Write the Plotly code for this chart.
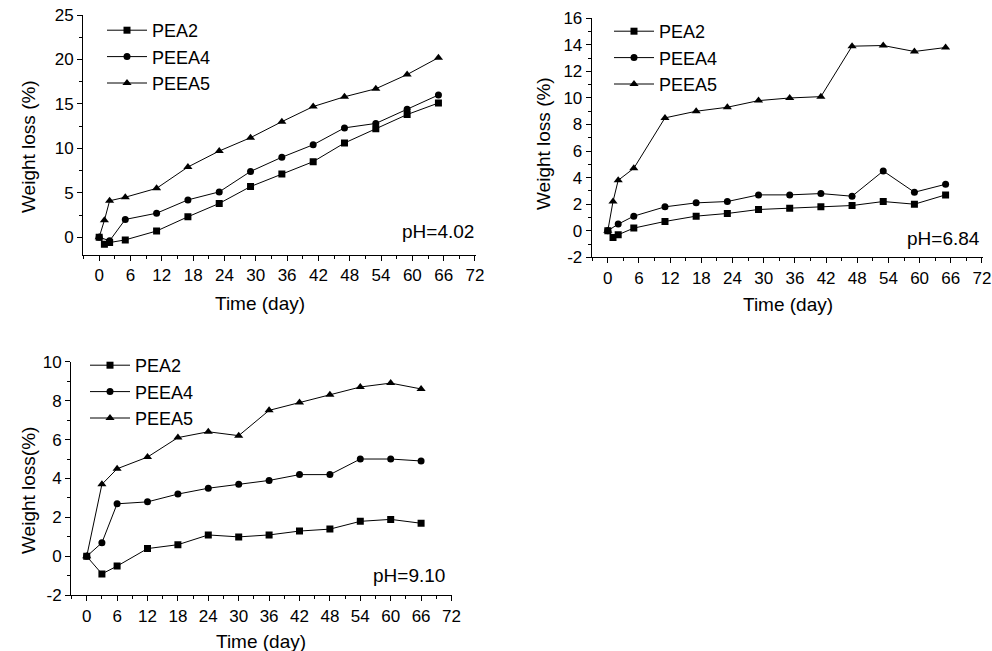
import plotly.graph_objects as go

# ---------------- data ----------------
series_names = ["PEA2", "PEEA4", "PEEA5"]
ph_labels = ["pH=4.02", "pH=6.84", "pH=9.10"]

# Panel 1 (pH 4.02)
p1_days_pea2 = [0, 1, 2, 5, 11, 17, 23, 29, 35, 41, 47, 53, 59, 65]
p1_pea2 = [0, -0.8, -0.6, -0.3, 0.7, 2.3, 3.8, 5.7, 7.1, 8.5, 10.6, 12.2, 13.8, 15.1]
p1_days_peea4 = [0, 2, 5, 11, 17, 23, 29, 35, 41, 47, 53, 59, 65]
p1_peea4 = [0, -0.4, 2.0, 2.7, 4.2, 5.1, 7.4, 9.0, 10.4, 12.3, 12.8, 14.4, 16.0]
p1_days_peea5 = [0, 1, 2, 5, 11, 17, 23, 29, 35, 41, 47, 53, 59, 65]
p1_peea5 = [0, 1.9, 4.1, 4.5, 5.5, 7.9, 9.7, 11.2, 13.0, 14.7, 15.8, 16.7, 18.3, 20.2]

# Panel 2 (pH 6.84)
p2_days_pea2 = [0, 1, 2, 5, 11, 17, 23, 29, 35, 41, 47, 53, 59, 65]
p2_pea2 = [0, -0.5, -0.3, 0.2, 0.7, 1.1, 1.3, 1.6, 1.7, 1.8, 1.9, 2.2, 2.0, 2.7]
p2_days_peea4 = [0, 2, 5, 11, 17, 23, 29, 35, 41, 47, 53, 59, 65]
p2_peea4 = [0, 0.5, 1.1, 1.8, 2.1, 2.2, 2.7, 2.7, 2.8, 2.6, 4.5, 2.9, 3.5]
p2_days_peea5 = [0, 1, 2, 5, 11, 17, 23, 29, 35, 41, 47, 53, 59, 65]
p2_peea5 = [0, 2.2, 3.8, 4.7, 8.5, 9.0, 9.3, 9.8, 10.0, 10.1, 13.9, 13.95, 13.5, 13.8]

# Panel 3 (pH 9.10)
p3_days = [0, 3, 6, 12, 18, 24, 30, 36, 42, 48, 54, 60, 66]
p3_pea2 = [0, -0.9, -0.5, 0.4, 0.6, 1.1, 1.0, 1.1, 1.3, 1.4, 1.8, 1.9, 1.7]
p3_peea4 = [0, 0.7, 2.7, 2.8, 3.2, 3.5, 3.7, 3.9, 4.2, 4.2, 5.0, 5.0, 4.9]
p3_peea5 = [0, 3.7, 4.5, 5.1, 6.1, 6.4, 6.2, 7.5, 7.9, 8.3, 8.7, 8.9, 8.6]

x_tick_vals = [0, 6, 12, 18, 24, 30, 36, 42, 48, 54, 60, 66, 72]
p1_y_ticks = [0, 5, 10, 15, 20, 25]
p2_y_ticks = [-2, 0, 2, 4, 6, 8, 10, 12, 14, 16]
p3_y_ticks = [-2, 0, 2, 4, 6, 8, 10]

# ---------------- style ----------------
FONT = "Liberation Sans, Arial, sans-serif"
W, H = 992, 651
symbols = ["square", "circle", "triangle-up"]
msizes = [7, 7, 8]

panels = [
    dict(xs=[p1_days_pea2, p1_days_peea4, p1_days_peea5], ys=[p1_pea2, p1_peea4, p1_peea5],
         box=(83, 475.5, 15, 255), yrange=[-2, 25], yticks=p1_y_ticks, yminor=2.5,
         ytitle="Weight loss (%)", ytitle_pos=(28, 147), xtitle_pos=(260, 303),
         ph_pos=(476, 231), legend_pos=(102, 12)),
    dict(xs=[p2_days_pea2, p2_days_peea4, p2_days_peea5], ys=[p2_pea2, p2_peea4, p2_peea5],
         box=(591.7, 982.5, 18.3, 257.3), yrange=[-2, 16], yticks=p2_y_ticks, yminor=1,
         ytitle="Weight loss (%)", ytitle_pos=(543, 144), xtitle_pos=(788, 304),
         ph_pos=(982, 239), legend_pos=(609, 13)),
    dict(xs=[p3_days, p3_days, p3_days], ys=[p3_pea2, p3_peea4, p3_peea5],
         box=(71, 452, 361.7, 595.3), yrange=[-2, 10], yticks=p3_y_ticks, yminor=1,
         ytitle="Weight loss(%)", ytitle_pos=(28, 491), xtitle_pos=(261, 641.5),
         ph_pos=(447, 575), legend_pos=(85, 347)),
]

fig = go.Figure()
annotations = []
layout_axes = {}

for i, p in enumerate(panels):
    n = i + 1
    xa = "x" if n == 1 else f"x{n}"
    ya = "y" if n == 1 else f"y{n}"
    leg = "legend" if n == 1 else f"legend{n}"
    for k in range(3):
        fig.add_trace(go.Scatter(
            x=p["xs"][k], y=p["ys"][k], mode="lines+markers", name=series_names[k],
            xaxis=xa, yaxis=ya, legend=leg, legendgroup=f"g{n}{k}",
            line=dict(color="black", width=1),
            marker=dict(symbol=symbols[k], size=msizes[k], color="black"),
            showlegend=True,
        ))
    x0, x1, y0, y1 = p["box"]
    xdom = [x0 / W, x1 / W]
    ydom = [1 - y1 / H, 1 - y0 / H]
    common = dict(showline=True, linecolor="black", linewidth=1, showgrid=False, zeroline=False,
                  ticks="outside", ticklen=5, tickwidth=1, tickcolor="black", automargin=False,
                  tickfont=dict(family=FONT, size=17, color="black"), mirror=False)
    layout_axes["xaxis" if n == 1 else f"xaxis{n}"] = dict(
        domain=xdom, anchor=ya, range=[-3.1, 72.1], tickmode="array", tickvals=x_tick_vals,
        ticktext=[str(v) for v in x_tick_vals],
        minor=dict(dtick=3, tick0=0, ticks="outside", ticklen=3, tickcolor="black", showgrid=False),
        **common)
    layout_axes["yaxis" if n == 1 else f"yaxis{n}"] = dict(
        domain=ydom, anchor=xa, range=p["yrange"], tickmode="array", tickvals=p["yticks"],
        ticktext=[str(v) for v in p["yticks"]],
        minor=dict(dtick=p["yminor"], tick0=0, ticks="outside", ticklen=3, tickcolor="black", showgrid=False),
        **common)
    lx, ly = p["legend_pos"]
    layout_axes[leg] = dict(x=lx / W, y=1 - ly / H, xanchor="left", yanchor="top",
                            xref="paper", yref="paper", itemwidth=40,
                            font=dict(family=FONT, size=18, color="black"),
                            bgcolor="rgba(0,0,0,0)", borderwidth=0, tracegroupgap=0,
                            itemclick=False, itemdoubleclick=False)
    tx, ty = p["ytitle_pos"]
    annotations.append(dict(text=p["ytitle"], x=tx / W, y=1 - ty / H, xref="paper", yref="paper",
                            textangle=-90, showarrow=False, xanchor="center", yanchor="middle",
                            font=dict(family=FONT, size=19, color="black")))
    tx, ty = p["xtitle_pos"]
    annotations.append(dict(text="Time (day)", x=tx / W, y=1 - ty / H, xref="paper", yref="paper",
                            showarrow=False, xanchor="center", yanchor="middle",
                            font=dict(family=FONT, size=19, color="black")))
    tx, ty = p["ph_pos"]
    annotations.append(dict(text=ph_labels[i], x=tx / W, y=1 - ty / H, xref="paper", yref="paper",
                            showarrow=False, xanchor="right", yanchor="middle",
                            font=dict(family=FONT, size=19, color="black")))

fig.update_layout(
    width=W, height=H, margin=dict(l=0, r=0, t=0, b=0, autoexpand=False),
    paper_bgcolor="white", plot_bgcolor="white",
    annotations=annotations, **layout_axes,
)

fig.write_html("out.html", config={"displayModeBar": False},
               post_script="document.body.style.margin='0px';")
